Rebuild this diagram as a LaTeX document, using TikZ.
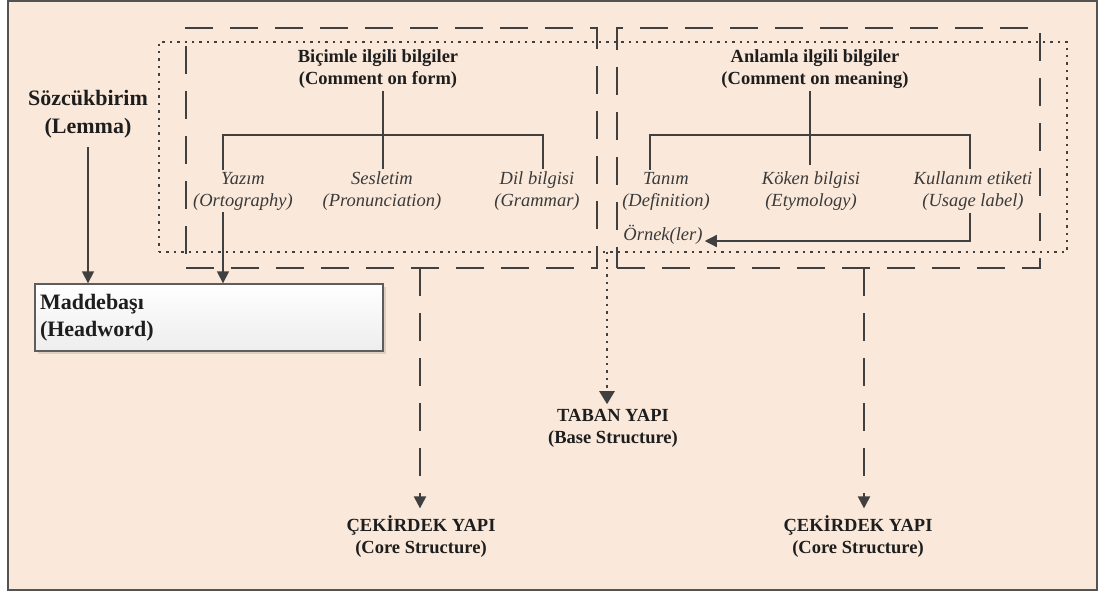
\documentclass[tikz,border=0pt]{standalone}
\usepackage{fontspec}
\setmainfont{Liberation Serif}
\usetikzlibrary{arrows.meta,shadows}
\definecolor{bgc}{HTML}{FAE9DA}
\definecolor{ln}{HTML}{404040}
\definecolor{txb}{HTML}{1E1E1E}
\definecolor{txi}{HTML}{3A3A3A}
\tikzset{
  bigbold/.style={font=\fontsize{22}{28}\selectfont\bfseries, text=txb, align=center, inner sep=2pt},
  headbold/.style={font=\fontsize{18.5}{22}\selectfont\bfseries, text=txb, align=center, inner sep=2pt},
  itemit/.style={font=\fontsize{18.5}{22}\selectfont\itshape, text=txi, align=center, inner sep=2pt},
  tree/.style={draw=ln, line width=1.3pt},
  arr/.style={draw=ln, line width=1.3pt, -{Triangle[length=12pt,width=12pt]}},
  dashbox/.style={draw=ln, line width=2pt, dash pattern=on 28pt off 17pt, inner sep=0pt, outer sep=0pt},
  dotbox/.style={draw=ln, line width=2.4pt, dash pattern=on 2.4pt off 5pt, inner sep=0pt, outer sep=0pt},
  dasharr/.style={draw=ln, line width=2pt, dash pattern=on 28pt off 17pt, -{Triangle[length=12pt,width=12pt]}},
  dotarr/.style={draw=ln, line width=2.4pt, dash pattern=on 2.4pt off 5pt, -{Triangle[length=13pt,width=15pt]}},
}
\begin{document}
\begin{tikzpicture}[x=1pt,y=-1pt]
\useasboundingbox (0,0) rectangle (1105,592);
\fill[white] (0,0) rectangle (1105,592);
\fill[bgc] (8,1) rectangle (1097,590);
\draw[draw=ln!90, line width=1.6pt] (8,1) rectangle (1097,590);

% group boxes
\node[dotbox, minimum width=908pt, minimum height=210pt] (dotbox) at (613,147) {};
\node[dashbox, minimum width=411pt, minimum height=240pt] (formbox) at (391.5,148) {};
\node[dashbox, minimum width=423pt, minimum height=240pt] (meanbox) at (828.5,148) {};

% left
\node[bigbold] (lemma) at (88,114) {Sözcükbirim\\(Lemma)};
\node[draw=ln!85, line width=1.3pt, top color=white, bottom color=gray!14,
      drop shadow={shadow xshift=3pt, shadow yshift=-3pt, opacity=0.25},
      minimum width=348pt, minimum height=67pt, text width=338pt, inner xsep=5pt,
      align=left, font=\fontsize{22}{27}\selectfont\bfseries, text=txb] (head) at (209,317.5)
      {Maddebaşı\\(Headword)};

% form tree
\node[headbold] (form) at (378,69) {Biçimle ilgili bilgiler\\(Comment on form)};
\node[itemit] (yazim) at (243,191) {Yazım\\(Ortography)};
\node[itemit] (seslet) at (382,191) {Sesletim\\(Pronunciation)};
\node[itemit] (dil) at (537,191) {Dil bilgisi\\(Grammar)};
\coordinate (fj) at (383,135);
\coordinate (fl) at (223,135);
\coordinate (fr) at (543,135);
\draw[tree] (form.south -| fj) -- (seslet.north -| fj);
\draw[tree] (yazim.north -| fl) -- (fl) -- (fr) -- (dil.north -| fr);

% meaning tree
\node[headbold] (mean) at (815,69) {Anlamla ilgili bilgiler\\(Comment on meaning)};
\node[itemit] (tanim) at (666,191) {Tanım\\(Definition)};
\node[itemit] (koken) at (811,191) {Köken bilgisi\\(Etymology)};
\node[itemit] (kull) at (973,191) {Kullanım etiketi\\(Usage label)};
\node[itemit] (ornek) at (663,235) {Örnek(ler)};
\coordinate (mj) at (810,135);
\coordinate (ml) at (650,135);
\coordinate (mr) at (970,135);
\draw[tree] (mean.south -| mj) -- ([yshift=4pt]koken.north -| mj);
\draw[tree] (tanim.north -| ml) -- (ml) -- (mr) -- (kull.north -| mr);
\draw[arr] (kull.south -| mr) |- ([yshift=-6pt]ornek.east);

% arrows to headword
\draw[arr, shorten <=7pt] (lemma.south) -- (head.north -| lemma);
\draw[arr] (yazim.south -| fl) -- (head.north -| fl);

% bottom labels
\node[headbold] (taban) at (613,428.5) {TABAN YAPI\\(Base Structure)};
\node[headbold] (core1) at (421,536.5) {ÇEKİRDEK YAPI\\(Core Structure)};
\node[headbold] (core2) at (858,536.5) {ÇEKİRDEK YAPI\\(Core Structure)};
\coordinate (tx) at (607,0);
\coordinate (c1x) at (420,0);
\coordinate (c2x) at (864,0);
\draw[dotarr] (dotbox.south -| tx) -- ([yshift=3pt]taban.north -| tx);
\draw[dasharr] (formbox.south -| c1x) -- ([yshift=5pt]core1.north -| c1x);
\draw[dasharr] (meanbox.south -| c2x) -- ([yshift=5pt]core2.north -| c2x);
\end{tikzpicture}
\end{document}
